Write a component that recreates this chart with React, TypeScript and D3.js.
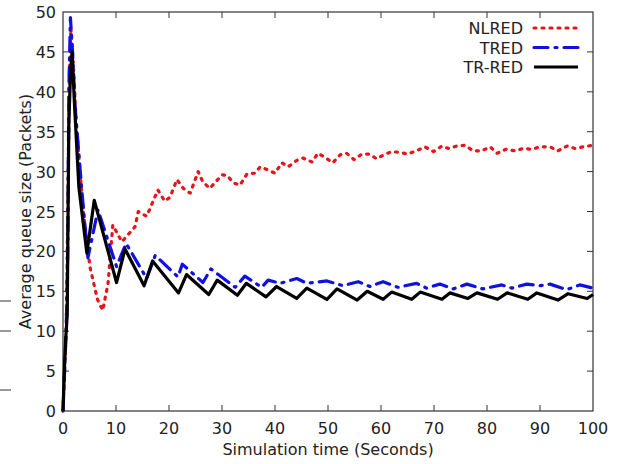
import React from "react";
import * as d3 from "d3";

const xTicks = [0, 10, 20, 30, 40, 50, 60, 70, 80, 90, 100];
const yTicks = [0, 5, 10, 15, 20, 25, 30, 35, 40, 45, 50];

const nlred: [number, number][] = [
  [0, 0], [0.3, 5], [0.6, 10], [0.9, 25], [1.2, 42], [1.5, 48], [1.9, 44], [2.5, 36], [3.8, 25.2],
  [5.1, 18], [6.5, 14], [7.5, 12.6], [8.5, 16], [9.4, 23.3], [11.1, 21.2], [13.6, 23.1], [14.2, 25],
  [15.8, 24.4], [17.9, 27.7], [19.2, 26.3], [20.2, 26.8], [21.5, 29], [22.7, 27.9], [24, 27.3],
  [25.5, 30], [26.4, 28.7], [27.7, 27.9], [30, 29.6], [31, 29.5], [32.1, 28.6], [33.4, 28.3],
  [34.7, 29.7], [36.2, 29.8], [37.2, 30.6], [38.7, 30.2], [40, 29.8], [41.3, 31.1], [42.5, 30.6],
  [44.1, 31.4], [45.3, 31.7], [47, 31.2], [48.1, 32.3], [49.4, 31.8], [50.9, 31.1], [52.3, 32.1],
  [53.5, 32.3], [54.9, 31.5], [56.4, 32.2], [57.8, 32.2], [59.2, 31.6], [60.5, 32.1], [62, 32.5],
  [63.6, 32.4], [65, 32.2], [66.7, 32.6], [68.3, 33.1], [69.9, 32.5], [71.5, 33.2], [72.7, 32.9],
  [74.3, 33.2], [75.8, 33.3], [77.4, 32.6], [79, 32.6], [80.6, 33.1], [81.9, 32.3], [83.6, 32.8],
  [85.3, 32.6], [86.8, 32.9], [88.5, 32.8], [90, 33.1], [91.9, 33.1], [93.4, 32.6], [95.1, 33.2],
  [96.6, 32.9], [98.1, 33.1], [100, 33.3],
];

const tred: [number, number][] = [
  [0, 0], [0.3, 5], [0.6, 10], [0.9, 20], [1.1, 40], [1.4, 49.3], [1.8, 45], [2.3, 38], [3.5, 28],
  [4.7, 19.2], [6.6, 25.2], [10.1, 18.1], [11.9, 21], [15.8, 16.6], [17.4, 19.5], [21.7, 16.8],
  [22.5, 18.4], [26.4, 16.1], [27.9, 17.8], [32.5, 15.5], [34.3, 16.9], [37.5, 15.5], [38.7, 16.4],
  [41, 16], [44.1, 16.6], [46, 16], [49.8, 16.3], [52.8, 15.7], [55.7, 16.2], [57.9, 15.6],
  [60.4, 16.2], [63.2, 15.5], [66.7, 16], [68.6, 15.4], [71.1, 15.9], [73.6, 15.3], [76.2, 15.9],
  [79.2, 15.3], [82.8, 15.8], [84.7, 15.4], [87.5, 15.9], [90, 15.7], [91.9, 15.9], [95, 15.2],
  [97.5, 15.8], [100, 15.4],
];

const trred: [number, number][] = [
  [0, 0], [0.3, 6], [0.5, 9], [0.8, 12], [1.1, 36], [1.4, 42], [1.7, 45], [2.2, 38], [3.0, 28],
  [4.5, 19.8], [5.9, 26.4], [10.1, 16.1], [11.7, 20.3], [15.3, 15.7], [16.9, 18.8], [21.8, 14.8],
  [23.3, 17.1], [27.5, 14.6], [29.1, 16.4], [32.9, 14.5], [34.6, 16], [38.3, 14.3], [40.3, 15.6],
  [44.1, 14.1], [46, 15.4], [49.8, 14], [51.7, 15.3], [55.5, 13.9], [57.4, 15], [60.4, 14],
  [62, 14.9], [65.8, 14], [67.4, 14.9], [71.5, 14], [73, 14.8], [76.4, 14.1], [78.1, 14.8],
  [82, 14], [83.8, 14.8], [87.7, 14], [89.4, 14.8], [93.4, 13.9], [95.3, 14.7], [98.9, 14.1],
  [100, 14.6],
];

const seriesNames = ["NLRED", "TRED", "TR-RED"];
const seriesColors = ["#e8141c", "#1010e0", "#000000"];
const seriesDash = ["2,6", "14,7,2,7", "none"];
const seriesData = [nlred, tred, trred];

export default function App() {
  const W = 619, H = 464;
  const left = 63, right = 593, top = 12, bottom = 411;
  const x = d3.scaleLinear().domain([0, 100]).range([left, right]);
  const y = d3.scaleLinear().domain([0, 50]).range([bottom, top]);
  const line = d3.line<[number, number]>().x((d) => x(d[0])).y((d) => y(d[1]));
  const font = "'DejaVu Sans', sans-serif";
  const tickLen = 6;
  const legendY = [28, 47.5, 67];

  return (
    <svg width={W} height={H} style={{ position: "absolute", left: 0, top: 0, background: "#fff" }}>
      <rect x={0} y={0} width={W} height={H} fill="#fff" />
      {/* stray marks on left */}
      {[301, 331, 390].map((yy) => (
        <line key={yy} x1={0} x2={11} y1={yy} y2={yy} stroke="#333" strokeWidth={1} />
      ))}
      {/* frame */}
      <rect x={left} y={top} width={right - left} height={bottom - top} fill="none" stroke="#333" strokeWidth={1.2} />
      {xTicks.map((t) => (
        <g key={"x" + t}>
          {t > 0 && t < 100 && (
            <>
              <line x1={x(t)} x2={x(t)} y1={bottom} y2={bottom - tickLen} stroke="#333" />
              <line x1={x(t)} x2={x(t)} y1={top} y2={top + tickLen} stroke="#333" />
            </>
          )}
          <text x={x(t)} y={434} textAnchor="middle" fontFamily={font} fontSize={16} fill="#222">
            {t}
          </text>
        </g>
      ))}
      {yTicks.map((t) => (
        <g key={"y" + t}>
          {t > 0 && t < 50 && (
            <>
              <line x1={left} x2={left + tickLen} y1={y(t)} y2={y(t)} stroke="#333" />
              <line x1={right} x2={right - tickLen} y1={y(t)} y2={y(t)} stroke="#333" />
            </>
          )}
          <text x={56} y={y(t) + 6} textAnchor="end" fontFamily={font} fontSize={16} fill="#222">
            {t}
          </text>
        </g>
      ))}
      <text x={(left + right) / 2} y={455} textAnchor="middle" fontFamily={font} fontSize={16} fill="#222">
        Simulation time (Seconds)
      </text>
      <text
        transform={`translate(31, ${(top + bottom) / 2}) rotate(-90)`}
        textAnchor="middle"
        fontFamily={font}
        fontSize={16}
        fill="#222"
      >
        Average queue size (Packets)
      </text>
      {seriesData.map((d, i) => (
        <path
          key={seriesNames[i]}
          d={line(d) || ""}
          fill="none"
          stroke={seriesColors[i]}
          strokeWidth={3.2}
          strokeDasharray={seriesDash[i]}
          strokeLinecap={i === 2 ? "butt" : "round"}
          strokeLinejoin="round"
        />
      ))}
      {seriesNames.map((n, i) => (
        <g key={"leg" + n}>
          <text x={523} y={legendY[i] + 6} textAnchor="end" fontFamily={font} fontSize={16} fill="#222">
            {n}
          </text>
          <line
            x1={534}
            x2={578}
            y1={legendY[i]}
            y2={legendY[i]}
            stroke={seriesColors[i]}
            strokeWidth={3.2}
            strokeDasharray={seriesDash[i]}
            strokeLinecap={i === 2 ? "butt" : "round"}
          />
        </g>
      ))}
    </svg>
  );
}
